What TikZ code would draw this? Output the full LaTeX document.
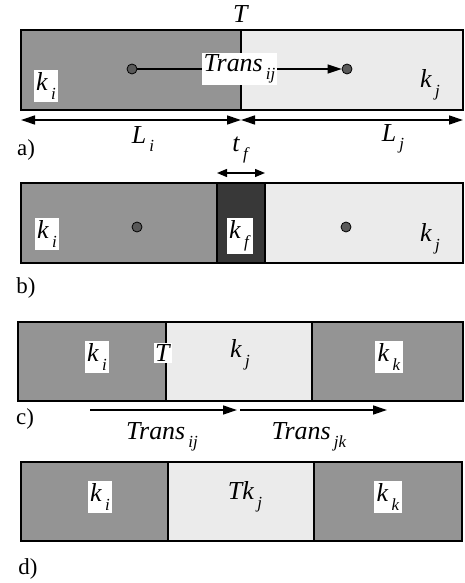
\documentclass[tikz,border=0pt]{standalone}
\usepackage{fontspec}
\setmainfont{Liberation Serif}
\usetikzlibrary{arrows.meta}
\newcommand\lbl[2]{\textit{#1}\hspace{0.12em}\raisebox{-0.33em}{\fontsize{17}{17}\selectfont\textit{#2}}}
\begin{document}
\begin{tikzpicture}[x=1bp,y=-1bp,
  darkcell/.style={fill=black!42, draw=black, line width=1.1bp},
  lightcell/.style={fill=black!8, draw=black, line width=1.1bp},
  bandcell/.style={fill=black!78, draw=black, line width=1.1bp},
  boxlab/.style={fill=white, inner sep=2.5bp, font=\fontsize{26}{28}\selectfont},
  plainlab/.style={inner sep=1bp, font=\fontsize{26}{28}\selectfont},
  panel/.style={inner sep=0pt, font=\fontsize{23}{25}\selectfont},
  dotnode/.style={circle, fill=black!65, draw=black, line width=0.8bp, minimum size=10bp, inner sep=0pt},
  arr/.style={line width=1.3bp, -{Triangle[length=14bp,width=9bp]}},
  darr/.style={line width=1.3bp, {Triangle[length=14bp,width=9bp]}-{Triangle[length=14bp,width=9bp]}}
]
\useasboundingbox (0,0) rectangle (465,583);
% ---------- panel a ----------
\draw[darkcell] (21,30) rectangle (241,110);
\draw[lightcell] (241,30) rectangle (463,110);
\node[plainlab] (aT) at (241,14) {\textit{T}};
\node[boxlab] (aki) at (46,86) {\lbl{k}{i}};
\node[plainlab] (akj) at (430,85) {\lbl{k}{j}};
\node[dotnode] (adi) at (132,69) {};
\node[dotnode] (adj) at (347,69) {};
\draw[arr] (adi) -- node[boxlab, pos=0.5, inner sep=1.5bp] (atr) {\lbl{Trans}{ij}} (adj);
\coordinate (aL0) at (21,120);
\coordinate (aL1) at (241,120);
\coordinate (aL2) at (463,120);
\draw[darr] (aL0) -- (aL1);
\draw[darr] (aL1) -- (aL2);
\node[plainlab] (aLi) at (143,139) {\lbl{L}{i}};
\node[plainlab] (aLj) at (393,139) {\lbl{L}{j}};
\node[panel] (pa) at (26,150) {a)};
\node[plainlab] (atf) at (241,150) {\lbl{t}{f}};
% ---------- panel b ----------
\draw[darkcell] (21,183) rectangle (217,263);
\draw[bandcell] (217,183) rectangle (265,263);
\draw[lightcell] (265,183) rectangle (463,263);
\coordinate (bt0) at (217,173);
\coordinate (bt1) at (265,173);
\draw[line width=1.3bp, {Triangle[length=10bp,width=8bp]}-{Triangle[length=10bp,width=8bp]}] (bt0) -- (bt1);
\node[dotnode] (bdi) at (137,227) {};
\node[dotnode] (bdj) at (346,227) {};
\node[boxlab] (bki) at (47,234) {\lbl{k}{i}};
\node[boxlab] (bkf) at (240,236) {\lbl{k}{f}};
\node[plainlab] (bkj) at (430,239) {\lbl{k}{j}};
\node[panel] (pb) at (26,288) {b)};
% ---------- panel c ----------
\draw[darkcell] (18,322) rectangle (166,401);
\draw[lightcell] (166,322) rectangle (312,401);
\draw[darkcell] (312,322) rectangle (463,401);
\node[boxlab] (cki) at (97,357) {\lbl{k}{i}};
\node[boxlab, inner sep=1.5bp] (cT) at (163,353) {\textit{T}};
\node[plainlab] (ckj) at (240,355) {\lbl{k}{j}};
\node[boxlab] (ckk) at (389,357) {\lbl{k}{k}};
\coordinate (ca0) at (90,410);
\coordinate (ca1) at (237,410);
\coordinate (ca2) at (240,410);
\coordinate (ca3) at (387,410);
\draw[arr] (ca0) -- (ca1);
\draw[arr] (ca2) -- (ca3);
\node[plainlab] (ctij) at (162,437) {\lbl{Trans}{ij}};
\node[plainlab] (ctjk) at (309,437) {\lbl{Trans}{jk}};
\node[panel] (pc) at (25,419) {c)};
% ---------- panel d ----------
\draw[darkcell] (21,462) rectangle (168,541);
\draw[lightcell] (168,462) rectangle (314,541);
\draw[darkcell] (314,462) rectangle (462,541);
\node[boxlab] (dki) at (100,497) {\lbl{k}{i}};
\node[plainlab] (dkj) at (245,497) {\lbl{Tk}{j}};
\node[boxlab] (dkk) at (388,497) {\lbl{k}{k}};
\node[panel] (pd) at (28,569) {d)};
\end{tikzpicture}
\end{document}
